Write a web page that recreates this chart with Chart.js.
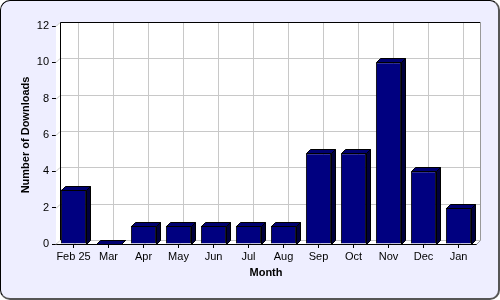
<!DOCTYPE html>
<html>
<head>
<meta charset="utf-8">
<script src="https://cdn.jsdelivr.net/npm/chart.js@4"></script>
<style>
  html, body { margin: 0; padding: 0; background: #ffffff; }
  #box {
    position: absolute; left: 0; top: 0; width: 500px; height: 300px;
    box-sizing: border-box; background: #eeeeff;
    border: 1px solid #000000; border-right: 2px solid #555555; border-bottom: 2px solid #555555;
    border-radius: 10px;
  }
  #chart1 { position: absolute; left: 0; top: 0; }
</style>
</head>
<body>
<div id="box"></div>
<canvas id="chart1" width="500" height="300"></canvas>
<script>
// dati
const mesi = ["Feb 25", "Mar", "Apr", "May", "Jun", "Jul", "Aug", "Sep", "Oct", "Nov", "Dec", "Jan"];
const downloads = [3, 0, 1, 1, 1, 1, 1, 5, 5, 10, 4, 2];
const yTicks = [0, 2, 4, 6, 8, 10, 12];

const D = 4; // profondita 3D
const fontBase = "'Liberation Sans', Arial, sans-serif";

// muro di fondo, pavimento e griglia spostati in profondita
const wall3d = {
    id: "wall3d",
    beforeDatasetsDraw(chart) {
        const {ctx, chartArea: a, scales} = chart;
        ctx.save();
        // muro
        ctx.fillStyle = "#ffffff";
        ctx.fillRect(a.left + D, a.top - D, a.right - a.left, a.bottom - a.top);
        // parete sinistra
        ctx.beginPath();
        ctx.moveTo(a.left, a.top); ctx.lineTo(a.left + D, a.top - D);
        ctx.lineTo(a.left + D, a.bottom - D); ctx.lineTo(a.left, a.bottom);
        ctx.closePath(); ctx.fill();
        // pavimento
        ctx.beginPath();
        ctx.moveTo(a.left, a.bottom); ctx.lineTo(a.left + D, a.bottom - D);
        ctx.lineTo(a.right + D, a.bottom - D); ctx.lineTo(a.right, a.bottom);
        ctx.closePath(); ctx.fill();

        // griglia
        ctx.strokeStyle = "#c8c8c8";
        ctx.lineWidth = 1;
        yTicks.forEach(v => {
            const y = Math.round(scales.y.getPixelForValue(v)) + 0.5;
            ctx.beginPath();
            ctx.moveTo(a.left, y); ctx.lineTo(a.left + D, y - D);
            ctx.lineTo(a.right + D, y - D);
            ctx.stroke();
        });
        mesi.forEach((m, i) => {
            const x = Math.round(scales.x.getPixelForValue(i)) + 0.5;
            ctx.beginPath();
            ctx.moveTo(x + D, a.top - D); ctx.lineTo(x + D, a.bottom - D); ctx.lineTo(x, a.bottom);
            ctx.stroke();
        });

        // bordi
        ctx.strokeStyle = "#000000";
        ctx.beginPath();
        ctx.moveTo(a.left + D + 0.5, a.bottom - D); ctx.lineTo(a.left + D + 0.5, a.top - D + 0.5);
        ctx.lineTo(a.right + D, a.top - D + 0.5);
        ctx.stroke();
        ctx.strokeStyle = "#999999";
        ctx.beginPath();
        ctx.moveTo(a.right + D + 0.5, a.top - D); ctx.lineTo(a.right + D + 0.5, a.bottom - D + 0.5);
        ctx.lineTo(a.right + 0.5, a.bottom + 0.5);
        ctx.stroke();
        ctx.restore();
    },
    afterDatasetsDraw(chart) {
        const {ctx} = chart;
        const meta = chart.getDatasetMeta(0);
        ctx.save();
        ctx.strokeStyle = "#000000";
        ctx.lineWidth = 1;
        meta.data.forEach(bar => {
            const l = Math.round(bar.x - bar.width / 2) + 0.5;
            const r = Math.round(bar.x + bar.width / 2) + 0.5;
            const t = Math.round(bar.y) + 0.5;
            const b = Math.round(bar.base) + 0.5;
            // lato
            ctx.fillStyle = "#00003c";
            ctx.beginPath();
            ctx.moveTo(r, t); ctx.lineTo(r + D, t - D); ctx.lineTo(r + D, b - D); ctx.lineTo(r, b);
            ctx.closePath(); ctx.fill(); ctx.stroke();
            // sopra
            ctx.fillStyle = "#000070";
            ctx.beginPath();
            ctx.moveTo(l, t); ctx.lineTo(l + D, t - D); ctx.lineTo(r + D, t - D); ctx.lineTo(r, t);
            ctx.closePath(); ctx.fill(); ctx.stroke();
        });
        ctx.restore();
    }
};

new Chart("chart1", {
    type: "bar",
    data: {
        labels: mesi,
        datasets: [{
            label: "Number of Downloads",
            data: downloads,
            backgroundColor: "#000080",
            borderColor: "#000000",
            borderWidth: 1,
            barPercentage: 0.8,
            categoryPercentage: 0.9
        }]
    },
    options: {
        responsive: false,
        animation: false,
        layout: {padding: {left: 0, top: 26, right: 24, bottom: 0}},
        plugins: {legend: {display: false}, tooltip: {enabled: false}},
        scales: {
            x: {
                afterFit: s => { s.height = 56; },
                grid: {offset: false, drawOnChartArea: false, tickColor: "#000000", tickLength: 4},
                border: {color: "#000000"},
                ticks: {color: "#000000", padding: 2, autoSkip: false, maxRotation: 0,
                        font: {family: fontBase, size: 11}},
                title: {display: true, text: "Month", color: "#000000",
                        font: {family: fontBase, size: 11, weight: "bold"}, padding: {top: 0, bottom: 20}}
            },
            y: {
                min: 0, max: 12,
                afterFit: s => { s.width = 56; },
                grid: {drawOnChartArea: false, tickColor: "#000000", tickLength: 4},
                border: {color: "#000000"},
                ticks: {stepSize: 2, color: "#000000", padding: 3, font: {family: fontBase, size: 11}},
                title: {display: true, text: "Number of Downloads", color: "#000000",
                        font: {family: fontBase, size: 11, weight: "bold"}, padding: {top: 19, bottom: 0}}
            }
        }
    },
    plugins: [wall3d]
});
</script>
</body>
</html>
